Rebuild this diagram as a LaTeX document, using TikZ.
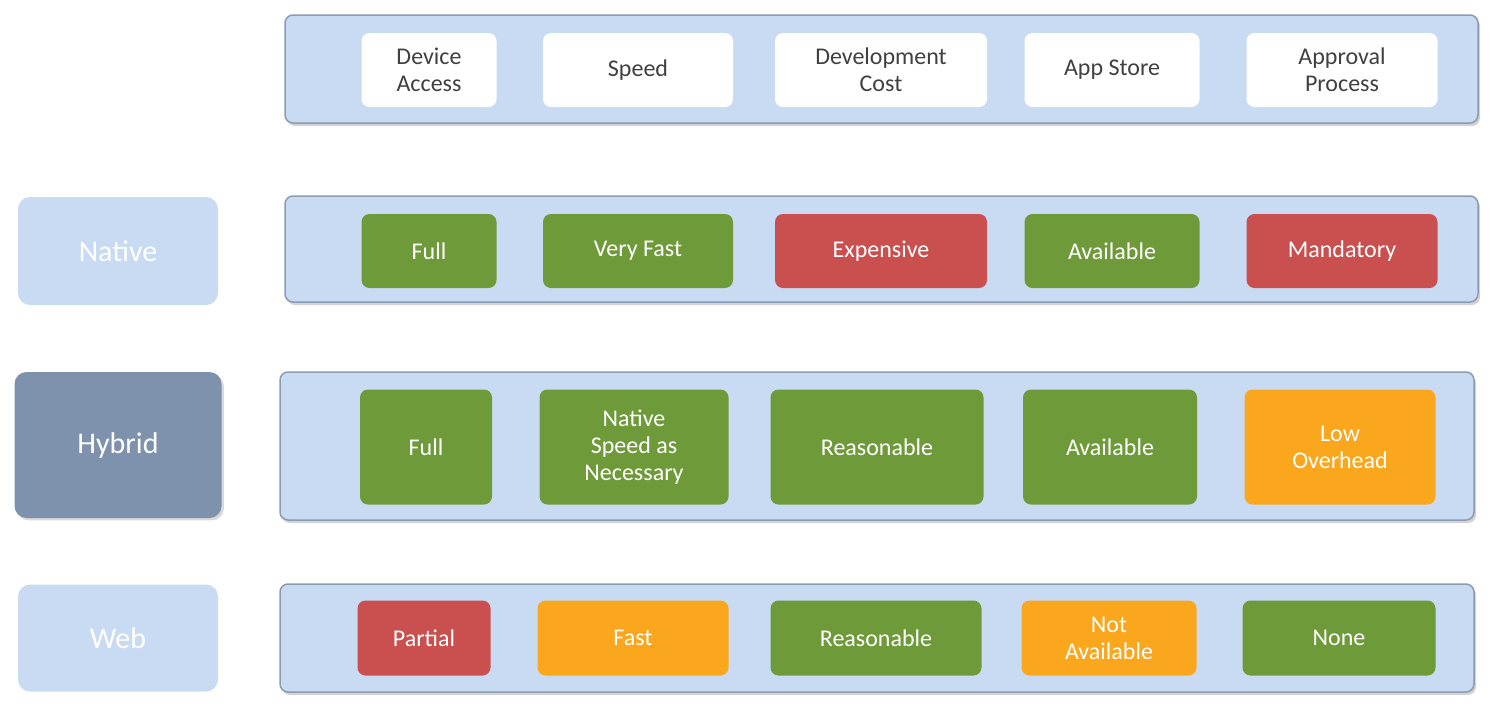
\documentclass[tikz,border=0pt]{standalone}
\usepackage{fontspec}
\setmainfont{Carlito}
\usetikzlibrary{shadows}
\definecolor{band}{HTML}{C9DBF2}
\definecolor{bandline}{HTML}{8A9BB3}
\definecolor{gr}{HTML}{6F9A3A}
\definecolor{rd}{HTML}{C9504E}
\definecolor{og}{HTML}{FBA71E}
\definecolor{hyb}{HTML}{7E92AD}
\definecolor{hdtext}{HTML}{404040}
\begin{document}
\begin{tikzpicture}[x=1pt,y=-1pt,
 band/.style={draw=bandline,line width=1.5pt,fill=band,rounded corners=8pt,drop shadow={shadow xshift=2pt,shadow yshift=-3pt,opacity=0.35}},
 lab/.style={rounded corners=12pt,fill=band,text=white,font=\fontsize{30}{32}\selectfont},
 cell/.style={rounded corners=8pt,text=white,align=center,inner sep=0pt,font=\fontsize{24}{27}\selectfont},
 hcell/.style={cell,fill=white,text=hdtext}]
\useasboundingbox (0,0) rectangle (1500,705);
% bands
\path[band] (285,15) rectangle (1478,123);
\path[band] (285,196) rectangle (1478,302);
\path[band] (280,372) rectangle (1474,520);
\path[band] (280,584) rectangle (1474,692);
% labels
\node[lab,minimum width=200,minimum height=108] (native) at (118,251) {Native};
\node[lab,fill=hyb,minimum width=207,minimum height=146,drop shadow={opacity=0.3}] (hybrid) at (118,445) {Hybrid};
\node[lab,minimum width=200,minimum height=107] (web) at (118,638) {Web};
% header
\node[hcell,minimum width=135,minimum height=74] (h1) at (429,70) {Device\\Access};
\node[hcell,minimum width=190,minimum height=74] (h2) at (638,70) {Speed};
\node[hcell,minimum width=212,minimum height=74] (h3) at (881,70) {Development\\Cost};
\node[hcell,minimum width=175,minimum height=74] (h4) at (1112,70) {App Store};
\node[hcell,minimum width=191,minimum height=74] (h5) at (1342,70) {Approval\\Process};
% native
\node[cell,fill=gr,minimum width=135,minimum height=74] (n1) at (429,251) {Full};
\node[cell,fill=gr,minimum width=190,minimum height=74] (n2) at (638,251) {Very Fast};
\node[cell,fill=rd,minimum width=212,minimum height=74] (n3) at (881,251) {Expensive};
\node[cell,fill=gr,minimum width=175,minimum height=74] (n4) at (1112,251) {Available};
\node[cell,fill=rd,minimum width=191,minimum height=74] (n5) at (1342,251) {Mandatory};
% hybrid
\node[cell,fill=gr,minimum width=132,minimum height=115] (y1) at (426,447) {Full};
\node[cell,fill=gr,minimum width=189,minimum height=115] (y2) at (634,447) {Native\\Speed as\\Necessary};
\node[cell,fill=gr,minimum width=213,minimum height=115] (y3) at (877,447) {Reasonable};
\node[cell,fill=gr,minimum width=174,minimum height=115] (y4) at (1110,447) {Available};
\node[cell,fill=og,minimum width=191,minimum height=115] (y5) at (1340,447) {Low\\Overhead};
% web
\node[cell,fill=rd,minimum width=133,minimum height=75] (w1) at (424,638) {Partial};
\node[cell,fill=og,minimum width=191,minimum height=75] (w2) at (633,638) {Fast};
\node[cell,fill=gr,minimum width=211,minimum height=75] (w3) at (876,638) {Reasonable};
\node[cell,fill=og,minimum width=175,minimum height=75] (w4) at (1109,638) {Not\\Available};
\node[cell,fill=gr,minimum width=193,minimum height=75] (w5) at (1339,638) {None};
\end{tikzpicture}
\end{document}
